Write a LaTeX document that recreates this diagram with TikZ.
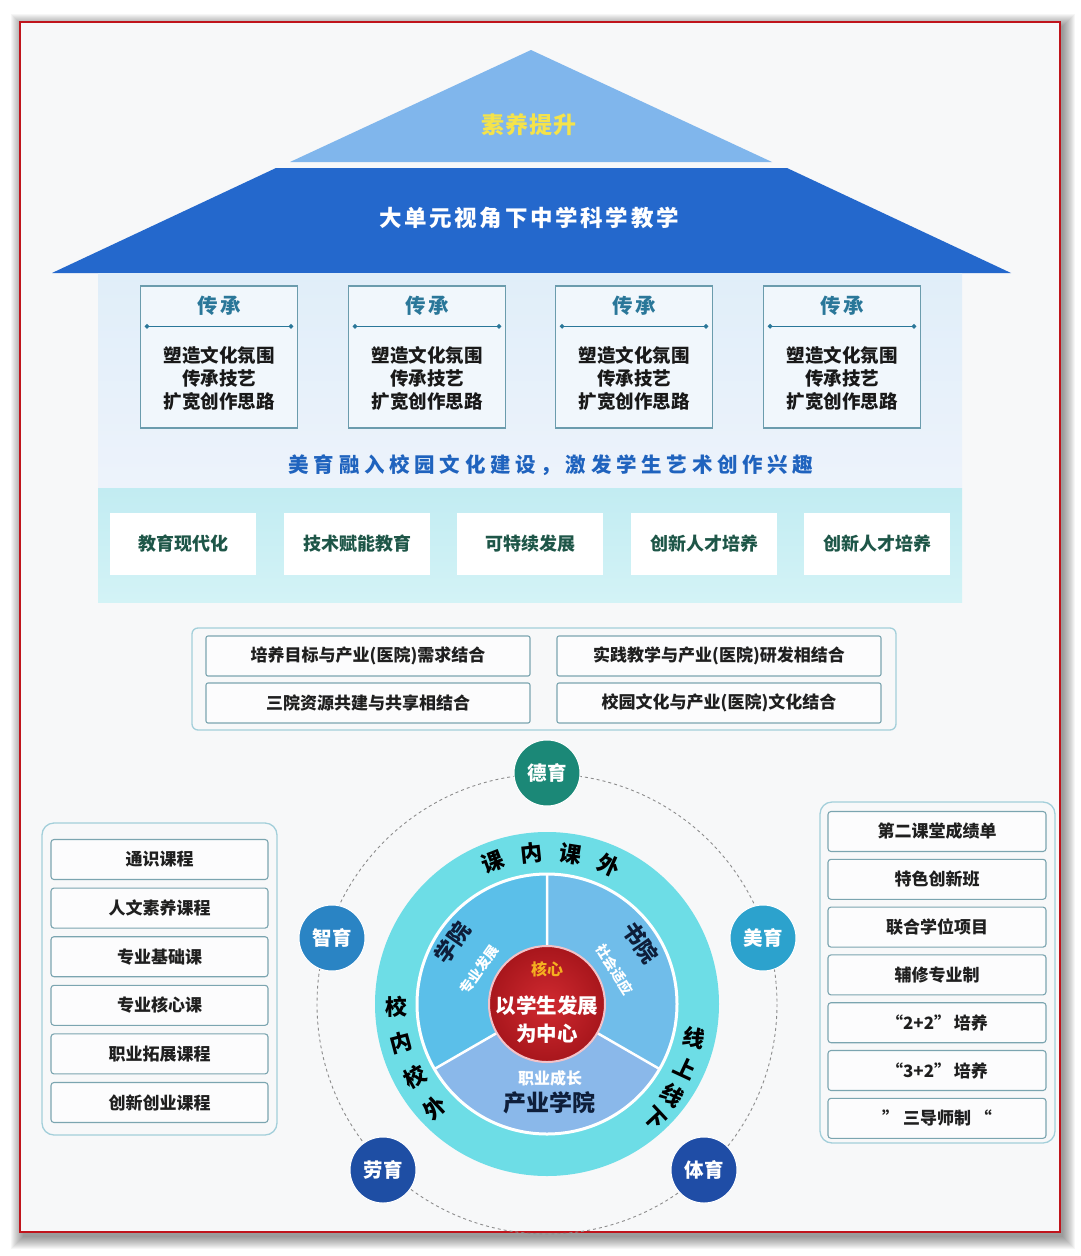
\documentclass[tikz,border=0pt]{standalone}
\usepackage{fontspec}
\setmainfont{Noto Sans CJK SC}
\usetikzlibrary{calc,arrows.meta}
\newcommand{\myfs}[2]{\fontsize{#1}{#2}\selectfont}
\definecolor{roofdark}{HTML}{2468CC}
\definecolor{rooflight}{HTML}{80B6EC}
\definecolor{yel}{HTML}{F5E34A}
\definecolor{bodyup}{HTML}{E0EEF9}
\definecolor{bodyupb}{HTML}{EDF3FB}
\definecolor{bodylow}{HTML}{C2ECF2}
\definecolor{bodylowb}{HTML}{D3F3F6}
\definecolor{chuan}{HTML}{2A7799}
\definecolor{chfill}{HTML}{F1F7FC}
\definecolor{boxline}{HTML}{6B9CAD}
\definecolor{banner}{HTML}{1F63BE}
\definecolor{greentext}{HTML}{1E5648}
\definecolor{panelline}{HTML}{A3CFDA}
\definecolor{itemline}{HTML}{7BA5B0}
\definecolor{bgin}{HTML}{F7F8F9}
\definecolor{ring}{HTML}{6DDDE6}
\definecolor{secA}{HTML}{5BBFE9}
\definecolor{secB}{HTML}{70BDEA}
\definecolor{secC}{HTML}{8AB8EA}
\definecolor{coreIn}{HTML}{D02A30}
\definecolor{coreOut}{HTML}{A8161C}
\definecolor{corerim}{HTML}{F3C2C8}
\definecolor{coreY}{HTML}{F5B020}
\definecolor{cDe}{HTML}{1B8877}
\definecolor{cZhi}{HTML}{2A84C4}
\definecolor{cMei}{HTML}{2CA2CD}
\definecolor{cLao}{HTML}{1E4EA4}
\definecolor{cTi}{HTML}{1F4DA6}
\definecolor{frame}{HTML}{C0141C}
\definecolor{navy}{HTML}{0E1E3A}
\begin{document}
\begin{tikzpicture}[x=1pt,y=-1pt,
  T/.style={inner sep=0pt, align=center},
  chbox/.style={draw=boxline, line width=1.3pt, fill=chfill, minimum width=157pt, minimum height=142pt, inner sep=0pt},
  chtitle/.style={T, text=chuan, font=\bfseries\myfs{20.5}{24}\addfontfeature{LetterSpace=14}},
  chbody/.style={T, text=black!90, font=\bfseries\myfs{18.5}{23}},
  gbox/.style={fill=white, minimum width=146pt, minimum height=62pt, inner sep=0pt, text=greentext, font=\bfseries\myfs{18}{20}},
  mbox/.style={draw=itemline, line width=1.1pt, fill=white!60!bgin, rounded corners=2pt, minimum width=324pt, minimum height=40pt, inner sep=0pt, font=\bfseries\myfs{17}{18}, text=black!88},
  litem/.style={draw=itemline, line width=1.1pt, fill=white!60!bgin, rounded corners=3pt, minimum width=217pt, minimum height=40pt, inner sep=0pt, font=\bfseries\myfs{17}{18}, text=black!88},
  panel/.style={draw=panelline, line width=1.3pt, rounded corners=12pt},
  edu/.style={circle, minimum size=66pt, inner sep=0pt, text=white, font=\bfseries\myfs{19.5}{20}, draw=white, line width=1pt},
  ringch/.style={T, font=\bfseries\myfs{22}{22}, text=black},
  secbig/.style={T, font=\bfseries\myfs{22}{22}, text=navy},
  secsmall/.style={T, font=\bfseries\myfs{14}{15}, text=white},
]
\useasboundingbox (0,0) rectangle (1080,1256);
\fill[white] (0,0) rectangle (1080,1256);
% shadow and frame
\foreach \i in {0,...,12} {
  \fill[black,opacity=0.035] (23-\i,26-\i) rectangle (1063+\i,1237+\i);
}
\fill[bgin] (20,22) rectangle (1060,1232);
\draw[frame, line width=2.5pt] (20,22) rectangle (1060,1232);

% roof
\fill[rooflight] (531,50) -- (772,162) -- (290,162) -- cycle;
\fill[roofdark] (276,168) -- (787,168) -- (1011,273) -- (52,273) -- cycle;
\node[T, text=yel, font=\bfseries\myfs{23}{23}\addfontfeature{LetterSpace=3}] (t1) at (529,125) {素养提升};
\node[T, text=white, font=\bfseries\myfs{22.5}{23}\addfontfeature{LetterSpace=12}] (t2) at (529,218) {大单元视角下中学科学教学};

% body
\shade[top color=bodyup, bottom color=bodyupb] (98,273) rectangle (962,488);
\shade[top color=bodylow, bottom color=bodylowb] (98,488) rectangle (962,602);

% chuan boxes
\foreach \n/\cx in {1/219, 2/427, 3/634, 4/842} {
  \node[chbox] (b\n) at (\cx,357) {};
  \node[chtitle] (bt\n) at (\cx,306) {传承};
  \draw[chuan, line width=1.2pt, {Circle[length=4.5pt]}-{Circle[length=4.5pt]}] ($(b\n.north west)+(5,41)$) -- ($(b\n.north east)+(-5,41)$);
  \node[chbody] (bb\n) at (\cx,378) {塑造文化氛围\\传承技艺\\扩宽创作思路};
}

\node[T, text=banner, font=\bfseries\myfs{20.5}{22}\addfontfeature{LetterSpace=23}] (banner) at (551,465) {美育融入校园文化建设，激发学生艺术创作兴趣};

% green boxes
\node[gbox] (g1) at (183,544) {教育现代化};
\node[gbox] (g2) at (357,544) {技术赋能教育};
\node[gbox] (g3) at (530,544) {可特续发展};
\node[gbox] (g4) at (704,544) {创新人才培养};
\node[gbox] (g5) at (877,544) {创新人才培养};

% middle panel
\draw[panelline, line width=1.3pt, rounded corners=6pt] (192,628) rectangle (896,730);
\node[mbox] (m1) at (368,656) {培养目标与产业(医院)需求结合};
\node[mbox] (m2) at (719,656) {实践教学与产业(医院)研发相结合};
\node[mbox] (m3) at (368,703) {三院资源共建与共享相结合};
\node[mbox] (m4) at (719,703) {校园文化与产业(医院)文化结合};

% left panel
\draw[panel] (42,823) rectangle (277,1135);
\foreach \k/\t in {0/通识课程, 1/人文素养课程, 2/专业基础课, 3/专业核心课, 4/职业拓展课程, 5/创新创业课程} {
  \node[litem] (l\k) at (159.5,859.5+48.6*\k) {\t};
}

% right panel
\draw[panel] (820,802) rectangle (1055,1143);
\foreach \k/\t in {0/第二课堂成绩单, 1/特色创新班, 2/联合学位项目, 3/辅修专业制, 4/“2+2”\,培养, 5/“3+2”\,培养, 6/” 三导师制 “} {
  \node[litem, minimum width=218pt] (r\k) at (937,831.5+47.8*\k) {\t};
}

% circle diagram
\coordinate (C) at (547,1004);
\draw[black!45, line width=0.9pt, dash pattern=on 3pt off 3pt] (C) circle[radius=230];
\begin{scope}[shift={(C)}, y=1pt]
  \fill[ring] (0,0) circle[radius=172];
  \fill[secA] (0,0) -- (90:130) arc[start angle=90, end angle=210, radius=130] -- cycle;
  \fill[secB] (0,0) -- (-30:130) arc[start angle=-30, end angle=90, radius=130] -- cycle;
  \fill[secC] (0,0) -- (210:130) arc[start angle=210, end angle=330, radius=130] -- cycle;
  \draw[white, line width=3pt] (0,0) circle[radius=130];
  \draw[white, line width=2.5pt] (0,0) -- (90:130) (0,0) -- (210:130) (0,0) -- (330:130);
  \node[circle, minimum size=116pt, inner sep=0pt, draw=corerim, line width=2pt, inner color=coreIn, outer color=coreOut] (core) at (0,0) {};
  \node[T, text=coreY, font=\bfseries\myfs{16}{16}] (hx) at (0,35) {核心};
  \node[T, text=white, font=\bfseries\myfs{20.5}{28}] (ctr) at (0,-16) {以学生发展\\为中心};
  % ring texts
  \node[ringch, rotate=21] (k1) at (111:152) {课};
  \node[ringch, rotate=6] (k2) at (96:152) {内};
  \node[ringch, rotate=-9] (k3) at (81:152) {课};
  \node[ringch, rotate=-24] (k4) at (66:152) {外};
  \node[ringch, rotate=1] (x1) at (181:151) {校};
  \node[ringch, rotate=15] (x2) at (195:151) {内};
  \node[ringch, rotate=29] (x3) at (209:151) {校};
  \node[ringch, rotate=43] (x4) at (223:153) {外};
  \node[ringch, rotate=-13] (y1) at (-13:151) {线};
  \node[ringch, rotate=-25] (y2) at (-25:153) {上};
  \node[ringch, rotate=-36] (y3) at (-36:155) {线};
  \node[ringch, rotate=-47] (y4) at (-47:157) {下};
  % sector texts
  \node[secbig, rotate=55] (sxy) at (147:113) {学院};
  \node[secsmall, rotate=55] (sxy2) at (153:76) {专业发展};
  \node[secbig, rotate=-55] (ssy) at (33:112) {书院};
  \node[secsmall, rotate=-58] (ssy2) at (27:76) {社会适应};
  \node[secsmall, font=\bfseries\myfs{16}{16}] (scy2) at (3,-74) {职业成长};
  \node[secbig, font=\bfseries\myfs{23}{23}] (scy) at (2,-99) {产业学院};
\end{scope}
\node[edu, fill=cDe] (de) at (547,773) {德育};
\node[edu, fill=cZhi] (zhi) at (332,938) {智育};
\node[edu, fill=cMei] (mei) at (763,938) {美育};
\node[edu, fill=cLao] (lao) at (383,1170) {劳育};
\node[edu, fill=cTi] (ti) at (704,1170) {体育};
\end{tikzpicture}
\end{document}
